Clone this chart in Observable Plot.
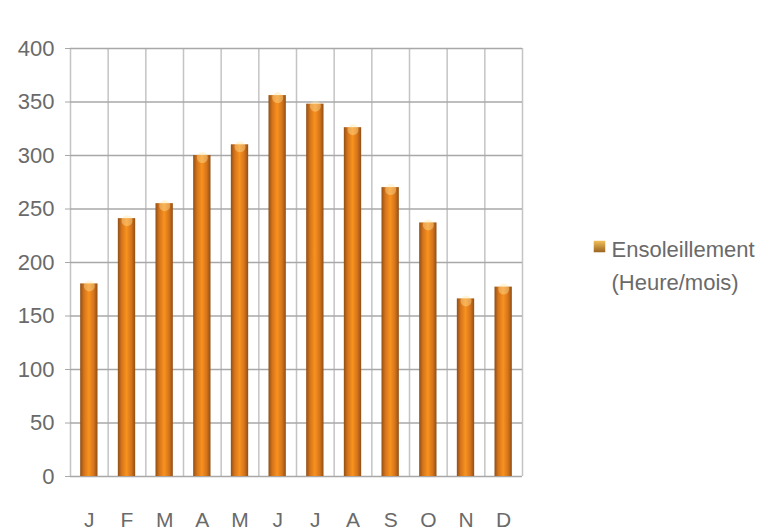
<!DOCTYPE html>
<html>
<head>
<meta charset="utf-8">
<script src="https://cdn.jsdelivr.net/npm/d3@7"></script>
<script src="https://cdn.jsdelivr.net/npm/@observablehq/plot@0.6"></script>
<style>
  html, body { margin: 0; padding: 0; background: #ffffff; }
  #chart { width: 772px; height: 531px; }
</style>
</head>
<body>
<div id="chart"></div>
<script>
// Data
const months = ["J", "F", "M", "A", "M", "J", "J", "A", "S", "O", "N", "D"];
const sunshine = [180, 241, 255, 300, 310, 356, 348, 326, 270, 237, 166, 177];
const yTicks = [0, 50, 100, 150, 200, 250, 300, 350, 400];
const seriesLabel = "Ensoleillement\n(Heure/mois)";

const data = months.map((m, i) => ({i, month: m, value: sunshine[i]}));
const bounds = d3.range(0, months.length + 1);
const barHalf = 0.23;

const plot = Plot.plot({
  width: 772,
  height: 531,
  marginLeft: 70,
  marginRight: 250,
  marginTop: 48,
  marginBottom: 55,
  style: {fontFamily: "'Liberation Sans', Arial, sans-serif", background: "#ffffff"},
  x: {domain: [0, months.length], axis: null},
  y: {domain: [0, 400], axis: null},
  marks: [
    // vertical gridlines
    Plot.ruleX(bounds, {x: d => d, stroke: "#c4c4c4", strokeWidth: 1.5}),
    // horizontal gridlines
    Plot.ruleY(yTicks, {y: d => d, stroke: "#a8a8a8", strokeWidth: 1.6}),
    // y axis ticks & labels
    Plot.axisY(yTicks, {
      label: null,
      tickSize: 5, tickPadding: 11, stroke: "#a8a8a8",
      fontSize: 22, fill: "#6a6a6a"
    }),
    // bars
    Plot.rectY(data, {
      x1: d => d.i + 0.5 - barHalf,
      x2: d => d.i + 0.5 + barHalf,
      y: "value",
      fill: "url(#barGrad)"
    }),
    // top highlight
    Plot.dot(data, {
      x: d => d.i + 0.5, y: "value",
      r: 5.5, fill: "#ffe7a3", fillOpacity: 0.4, stroke: "none", dy: 2
    }),
    // x labels
    Plot.text(data, {
      x: d => d.i + 0.5, y: 0, text: "month",
      dy: 44, fontSize: 21, fill: "#6a6a6a"
    }),
    // legend
    Plot.dot([seriesLabel], {
      frameAnchor: "right", dx: 77, dy: -16,
      symbol: "square", r: 6.5, fill: "url(#legGrad)", stroke: "none"
    }),
    Plot.text([seriesLabel], {
      frameAnchor: "right", dx: 89, dy: 0, text: d => d,
      textAnchor: "start", fontSize: 22, lineHeight: 1.5, fill: "#6a6a6a"
    })
  ]
});

// gradients for the cylinder-like bars
const defs = d3.select(plot).insert("defs", ":first-child");
const g = defs.append("linearGradient").attr("id", "barGrad")
  .attr("x1", "0").attr("x2", "1").attr("y1", "0").attr("y2", "0");
[["0%", "#8f4f16"], ["22%", "#d5741b"], ["50%", "#f8921f"], ["78%", "#d5741b"], ["100%", "#8f4f16"]]
  .forEach(([o, c]) => g.append("stop").attr("offset", o).attr("stop-color", c));
const lg = defs.append("linearGradient").attr("id", "legGrad")
  .attr("x1", "0").attr("x2", "0").attr("y1", "0").attr("y2", "1");
[["0%", "#f2c05a"], ["100%", "#9a6420"]]
  .forEach(([o, c]) => lg.append("stop").attr("offset", o).attr("stop-color", c));

document.getElementById("chart").appendChild(plot);
</script>
</body>
</html>
